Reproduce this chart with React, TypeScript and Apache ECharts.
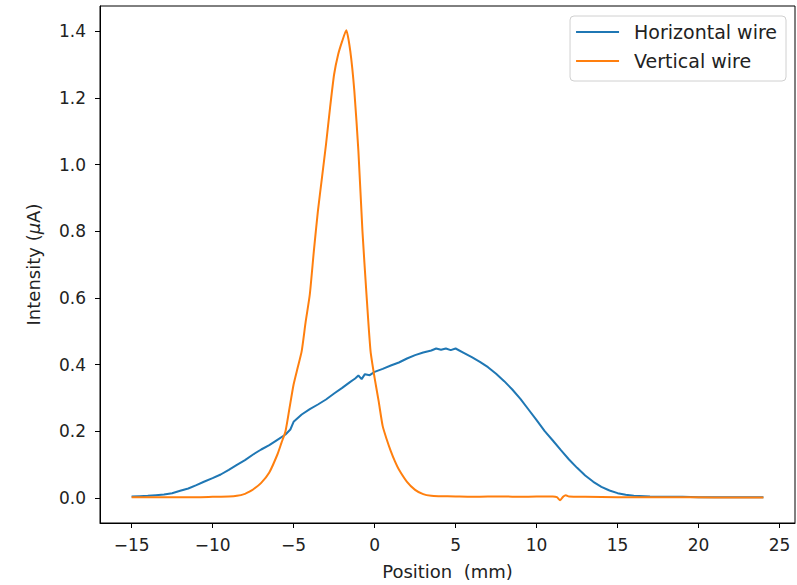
import React, { useEffect, useRef } from "react";
import * as echarts from "echarts";

// Horizontal wire scan
const hPos = [
  -15, -14.5, -14, -13.5, -13, -12.5, -12, -11.5, -11, -10.5, -10, -9.5, -9, -8.5, -8, -7.5, -7, -6.5, -6,
  -5.5, -5.2, -5, -4.5, -4, -3.5, -3, -2.5, -2, -1.5, -1.2, -1, -0.8, -0.6, -0.3, 0, 0.5, 1, 1.5, 2, 2.5,
  3, 3.5, 3.8, 4.1, 4.4, 4.7, 5, 5.5, 6, 6.5, 7, 7.5, 8, 8.5, 9, 9.5, 10, 10.5, 11, 11.5, 12, 12.5, 13,
  13.5, 14, 14.5, 15, 15.5, 16, 17, 18, 19, 20, 21, 22, 23, 24,
];
const hVal = [
  0.004, 0.005, 0.006, 0.008, 0.01, 0.014, 0.021, 0.028, 0.038, 0.049, 0.059, 0.07, 0.084, 0.099, 0.113,
  0.13, 0.145, 0.158, 0.174, 0.19, 0.205, 0.228, 0.25, 0.266, 0.28, 0.295, 0.313, 0.33, 0.348, 0.358,
  0.367, 0.356, 0.371, 0.368, 0.378, 0.387, 0.397, 0.406, 0.418, 0.428, 0.436, 0.442, 0.448, 0.444,
  0.448, 0.443, 0.448, 0.435, 0.422, 0.408, 0.392, 0.372, 0.35, 0.325, 0.297, 0.265, 0.233, 0.2, 0.172,
  0.143, 0.115, 0.09, 0.067, 0.048, 0.033, 0.022, 0.014, 0.009, 0.006, 0.004, 0.003, 0.003, 0.002,
  0.002, 0.002, 0.002, 0.002,
];

// Vertical wire scan
const vPos = [
  -15, -14, -13, -12, -11, -10, -9, -8.5, -8, -7.75, -7.5, -7, -6.5, -6, -5.75, -5.5, -5.25, -5, -4.75,
  -4.5, -4.25, -4, -3.75, -3.5, -3.25, -3, -2.75, -2.5, -2.25, -2, -1.75, -1.5, -1.25, -1, -0.75, -0.5,
  -0.25, 0, 0.25, 0.5, 0.75, 1, 1.25, 1.5, 2, 2.5, 3, 3.5, 4, 5, 6, 7, 8, 9, 10, 11, 11.25, 11.45,
  11.65, 11.8, 12, 13, 15, 18, 21, 24,
];
const vVal = [
  0.002, 0.002, 0.002, 0.002, 0.002, 0.003, 0.004, 0.006, 0.012, 0.018, 0.025, 0.045, 0.076, 0.13,
  0.165, 0.2, 0.27, 0.34, 0.39, 0.44, 0.53, 0.61, 0.74, 0.86, 0.96, 1.06, 1.17, 1.27, 1.33, 1.37,
  1.403, 1.34, 1.22, 1.04, 0.8, 0.61, 0.44, 0.36, 0.29, 0.215, 0.175, 0.14, 0.11, 0.085, 0.048, 0.024,
  0.011, 0.006, 0.005, 0.004, 0.003, 0.004, 0.004, 0.003, 0.004, 0.004, 0.002, -0.007, 0.004, 0.008,
  0.004, 0.003, 0.002, 0.002, 0.001, 0.001,
];

const xTicks = [-15, -10, -5, 0, 5, 10, 15, 20, 25];
const yTicks = [0, 0.2, 0.4, 0.6, 0.8, 1.0, 1.2, 1.4];

const seriesNames = ["Horizontal wire", "Vertical wire"];
const FONT = "DejaVu Sans";

export default function App() {
  const ref = useRef<HTMLDivElement>(null);
  useEffect(() => {
    if (!ref.current) return;
    const chart = echarts.init(ref.current, undefined, { renderer: "svg" });
    const hData = hPos.map((x, i) => [x, hVal[i]]);
    const vData = vPos.map((x, i) => [x, vVal[i]]);
    chart.setOption({
      animation: false,
      backgroundColor: "#fff",
      grid: {
        left: 100,
        right: 2,
        top: 6,
        bottom: 62,
        show: true,
        borderColor: "#000",
        borderWidth: 1,
        backgroundColor: "transparent",
      },
      legend: {
        orient: "vertical",
        right: 11,
        top: 16,
        data: seriesNames,
        icon: "rect",
        itemWidth: 43,
        itemHeight: 2,
        itemGap: 9,
        padding: [6, 9, 10, 6],
        borderColor: "#d0d0d0",
        borderWidth: 1,
        borderRadius: 4,
        backgroundColor: "rgba(255,255,255,0.8)",
        textStyle: {
          fontFamily: FONT,
          fontSize: 19,
          lineHeight: 20,
          color: "#222",
          padding: [0, 0, 0, 10],
        },
      },
      xAxis: {
        type: "value",
        min: -16.95,
        max: 25.95,
        name: "Position  (mm)",
        nameLocation: "middle",
        nameGap: 39,
        nameTextStyle: { fontFamily: FONT, fontSize: 18, color: "#222" },
        axisLine: { show: true, onZero: false, lineStyle: { color: "#000", width: 1 } },
        axisTick: { show: true, length: 5, lineStyle: { color: "#000", width: 1 }, customValues: xTicks },
        axisLabel: {
          customValues: xTicks,
          margin: 13,
          fontFamily: FONT,
          fontSize: 17,
          color: "#222",
          formatter: (v: number) => String(v).replace("-", "\u2212"),
        },
        splitLine: { show: false },
      },
      yAxis: {
        type: "value",
        min: -0.0755,
        max: 1.4755,
        name: "Intensity ({it|\u03bc}A)",
        nameLocation: "middle",
        nameGap: 58,
        nameTextStyle: {
          fontFamily: FONT,
          fontSize: 18,
          color: "#222",
          rich: { it: { fontFamily: FONT, fontSize: 18, fontStyle: "italic", color: "#222" } },
        },
        axisLine: { show: true, onZero: false, lineStyle: { color: "#000", width: 1 } },
        axisTick: { show: true, length: 5, lineStyle: { color: "#000", width: 1 }, customValues: yTicks },
        axisLabel: {
          customValues: yTicks,
          margin: 14,
          fontFamily: FONT,
          fontSize: 17,
          color: "#222",
          formatter: (v: number) => v.toFixed(1),
        },
        splitLine: { show: false },
      },
      series: [
        {
          name: seriesNames[0],
          type: "line",
          data: hData,
          showSymbol: false,
          symbol: "none",
          lineStyle: { color: "#1f77b4", width: 2 },
          itemStyle: { color: "#1f77b4" },
        },
        {
          name: seriesNames[1],
          type: "line",
          data: vData,
          showSymbol: false,
          symbol: "none",
          smooth: 0.2,
          lineStyle: { color: "#ff7f0e", width: 2 },
          itemStyle: { color: "#ff7f0e" },
        },
      ],
    });
    return () => chart.dispose();
  }, []);
  return <div ref={ref} style={{ width: 797, height: 585, position: "absolute", left: 0, top: 0 }} />;
}
